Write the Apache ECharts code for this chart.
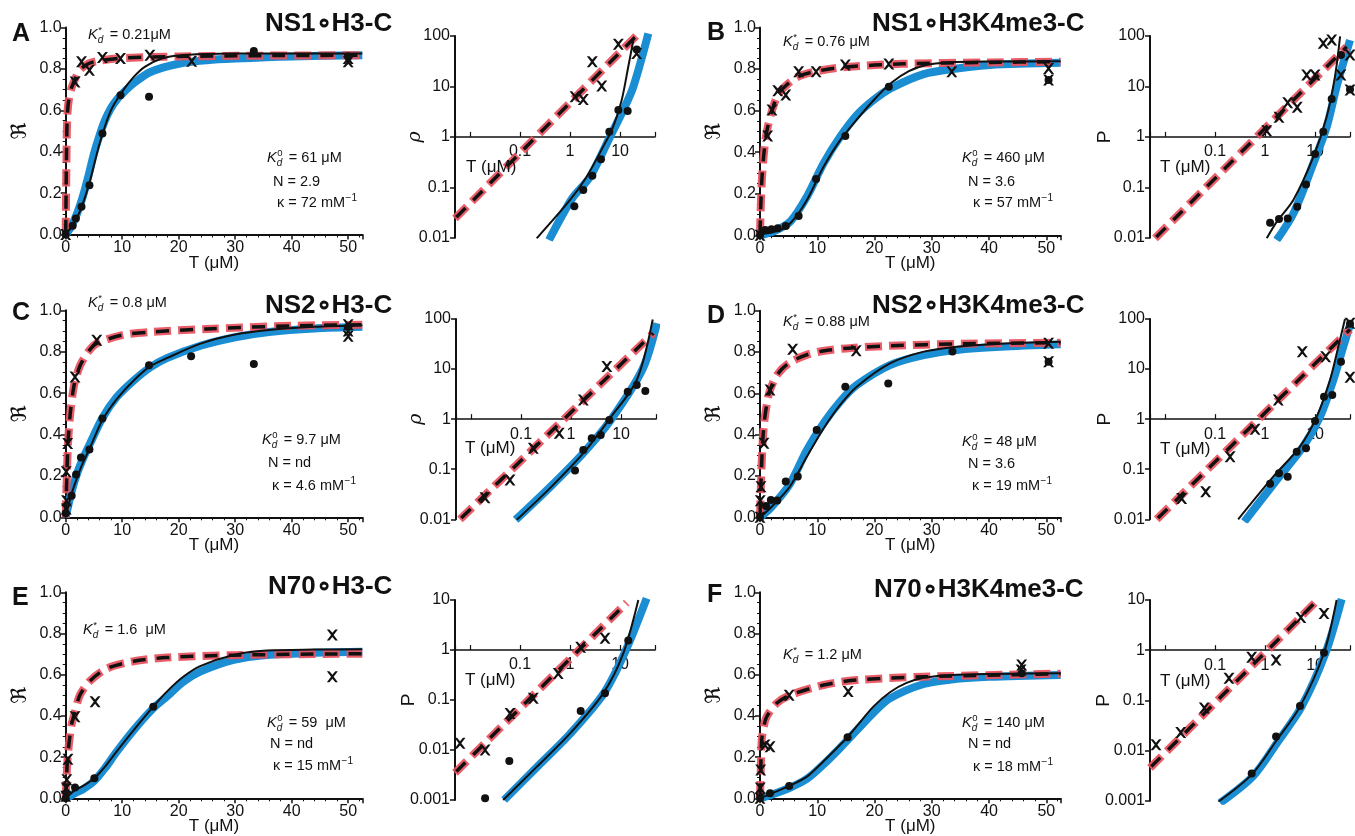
<!DOCTYPE html>
<html>
<head>
<meta charset="utf-8">
<script src="https://cdn.jsdelivr.net/npm/echarts@6.0.0/dist/echarts.min.js"></script>
<style>
html,body{margin:0;padding:0;background:#fff;}
#chart{width:1355px;height:836px;}
</style>
</head>
<body>
<div id="chart"></div>
<script>
// ================= TEXT =================
const panelLetters = ['A','B','C','D','E','F'];
const panelTitles = ['NS1\u2218H3-C','NS1\u2218H3K4me3-C','NS2\u2218H3-C','NS2\u2218H3K4me3-C','N70\u2218H3-C','N70\u2218H3K4me3-C'];
const kdStarValues = ['= 0.21\u03bcM','= 0.76 \u03bcM','= 0.8 \u03bcM','= 0.88 \u03bcM','= 1.6  \u03bcM','= 1.2 \u03bcM'];
const kd0Values = ['= 61 \u03bcM','= 460 \u03bcM','= 9.7 \u03bcM','= 48 \u03bcM','= 59  \u03bcM','= 140 \u03bcM'];
const nValues = ['N = 2.9','N = 3.6','N = nd','N = 3.6','N = nd','N = nd'];
const kappaValues = ['= 72 mM','= 57 mM','= 4.6 mM','= 19 mM','= 15 mM','= 18 mM'];
const logYNames = ['\u03c1','P','\u03c1','P','P','P'];
const linYName = '\u211c';
const xName = 'T (\u03bcM)';

// ================= TICKS =================
const linXTicks = [0,10,20,30,40,50];
const linYTicks = [0,0.2,0.4,0.6,0.8,1.0];
const linXRange = [0, 52.5];
const logYTickLabels = {'-3':'0.001','-2':'0.01','-1':'0.1','0':'1','1':'10','2':'100'};
const logXTickLabels = {'-1':'0.1','0':'1','1':'10'};
const logXRange = [0.005, 50];
const logYRanges = [[0.01,100],[0.01,100],[0.01,100],[0.01,100],[0.001,10],[0.001,10]];

// ================= DATA: binding curves (T, R) =================
const A_red = [[0,0],[0.15,0.4],[0.3,0.58],[0.6,0.66],[1.06,0.71],[1.8,0.76],[2.5,0.795],[4,0.825],[6,0.84],[10,0.852],[20,0.86],[35,0.864],[52.5,0.866]];
const A_blue = [[0,0],[1,0.04],[2,0.1],[3,0.18],[4,0.28],[5,0.39],[6,0.48],[7,0.555],[8,0.61],[9,0.65],[10,0.68],[12,0.73],[15,0.785],[20,0.825],[25,0.842],[30,0.85],[40,0.86],[52.5,0.866]];
const A_black = [[0,0],[2,0.08],[4,0.23],[6,0.44],[8,0.6],[10,0.69],[12,0.76],[14,0.81],[17,0.85],[20,0.865],[25,0.872],[30,0.874],[52.5,0.875]];
const A_cross = [[0,0],[1.65,0.737],[2.8,0.834],[4.2,0.794],[6.5,0.855],[9.7,0.85],[14.9,0.866],[22.3,0.837],[50,0.834],[50,0.85]];
const A_dot = [[0,0],[1.24,0.042],[1.8,0.077],[2.8,0.134],[4.2,0.238],[6.5,0.488],[9.7,0.673],[14.75,0.665],[33.3,0.887],[50,0.86]];

const B_red = [[0,0],[0.15,0.15],[0.4,0.3],[0.9,0.45],[1.34,0.52],[2.1,0.6],[3.1,0.675],[4.5,0.72],[6.75,0.765],[10,0.79],[15,0.81],[25,0.825],[40,0.832],[52.5,0.835]];
const B_blue = [[0,0],[2.5,0.02],[5.3,0.066],[8.2,0.186],[11.1,0.346],[14,0.474],[16.9,0.578],[19.8,0.65],[22.8,0.707],[28.6,0.776],[34.4,0.803],[40.2,0.82],[52.5,0.83]];
const B_black = [[0,0.005],[3,0.02],[5.3,0.058],[8.2,0.17],[11.1,0.33],[14,0.458],[17,0.56],[20,0.655],[23,0.735],[26,0.79],[29,0.82],[33,0.832],[40,0.836],[52.5,0.837]];
const B_cross = [[0,0],[1.34,0.478],[2.1,0.603],[3.1,0.696],[4.5,0.675],[6.75,0.787],[9.8,0.787],[14.9,0.819],[22.5,0.824],[33.5,0.787],[50.4,0.803],[50.4,0.747]];
const B_dot = [[0,0],[0.93,0.026],[2.0,0.029],[3.1,0.034],[4.5,0.045],[6.75,0.093],[9.8,0.271],[14.9,0.478],[22.5,0.715],[50.4,0.747]];

const C_red = [[0,0],[0.15,0.15],[0.4,0.35],[0.8,0.5],[1.5,0.64],[2.5,0.73],[4,0.8],[5.5,0.84],[10,0.88],[15,0.895],[25,0.91],[40,0.925],[52.5,0.93]];
const C_blue = [[0,0],[1,0.12],[2,0.21],[3,0.28],[4.2,0.35],[6.5,0.48],[9,0.58],[12,0.66],[15,0.725],[18,0.77],[24,0.83],[30,0.87],[36,0.895],[44,0.912],[52.5,0.92]];
const C_black = [[0,0],[1,0.11],[2,0.19],[3,0.26],[4.2,0.33],[6.5,0.47],[9,0.57],[12,0.66],[15,0.73],[18,0.77],[24,0.84],[30,0.883],[36,0.905],[44,0.92],[52.5,0.928]];
const C_cross = [[0.1,0.04],[0.15,0.08],[0.1,0.22],[0.35,0.357],[1.65,0.678],[5.5,0.855],[50,0.93],[50,0.9],[50,0.875]];
const C_dot = [[0,0.02],[1.06,0.104],[1.83,0.207],[2.7,0.289],[4.2,0.328],[6.5,0.477],[14.75,0.735],[22.2,0.778],[33.3,0.74],[50,0.92]];

const D_red = [[0,0],[0.15,0.15],[0.4,0.33],[0.7,0.45],[1.2,0.55],[1.75,0.615],[3,0.69],[5,0.745],[8,0.785],[11,0.805],[16,0.82],[22.7,0.83],[35,0.84],[52.5,0.845]];
const D_blue = [[0,0],[2,0.05],[5.2,0.161],[8.2,0.326],[11.1,0.455],[14,0.56],[16.9,0.64],[22.7,0.737],[28.6,0.785],[34.4,0.81],[42,0.825],[52.5,0.837]];
const D_black = [[0,0],[2,0.05],[5.2,0.148],[8.2,0.294],[11.1,0.43],[14,0.544],[16.9,0.632],[22.7,0.745],[28.6,0.802],[34.4,0.826],[42,0.84],[52.5,0.85]];
const D_cross = [[0,0],[0.05,0.08],[0.17,0.148],[0.7,0.358],[1.75,0.616],[5.7,0.813],[16.8,0.806],[50.4,0.842],[50.4,0.753]];
const D_dot = [[0,0],[1.05,0.055],[1.9,0.084],[3.0,0.081],[4.5,0.173],[6.6,0.197],[9.9,0.423],[14.9,0.632],[22.4,0.648],[33.6,0.802],[50.4,0.753]];

const E_red = [[0,0],[0.15,0.1],[0.3,0.18],[0.6,0.27],[1.06,0.36],[1.65,0.42],[2.5,0.5],[4.3,0.57],[7.3,0.63],[12,0.665],[17.9,0.683],[29.7,0.695],[52.5,0.702]];
const E_blue = [[0,0],[1.65,0.025],[3.1,0.045],[5,0.083],[7,0.148],[9,0.225],[12,0.33],[15.5,0.437],[17.9,0.494],[20.8,0.566],[23.8,0.615],[29.7,0.672],[35.6,0.696],[44,0.706],[52.5,0.712]];
const E_black = [[0,0],[1.65,0.04],[3.1,0.06],[5.07,0.097],[7,0.155],[9,0.227],[12,0.33],[15.5,0.445],[17.9,0.518],[20.8,0.59],[23.8,0.642],[29.7,0.696],[35.6,0.717],[44,0.722],[52.5,0.723]];
const E_cross = [[0,0.01],[0.1,0.05],[0.2,0.09],[0.4,0.19],[1.65,0.396],[5.2,0.469],[47.2,0.793],[47.2,0.59]];
const E_dot = [[0,0],[1.65,0.052],[5.07,0.097],[15.5,0.445]];

const F_red = [[0,0],[0.1,0.1],[0.3,0.28],[0.6,0.34],[1.17,0.396],[2.9,0.461],[5.2,0.5],[11.1,0.55],[16.9,0.574],[28.6,0.59],[52.5,0.605]];
const F_blue = [[0,0],[1.75,0.015],[5.1,0.05],[8.2,0.095],[11.1,0.165],[14,0.245],[16.9,0.33],[19.8,0.415],[22.7,0.485],[28.6,0.555],[34.4,0.58],[40,0.59],[52.5,0.599]];
const F_black = [[0,0],[1.75,0.02],[5.1,0.06],[8.2,0.105],[11.1,0.18],[14,0.26],[15.3,0.296],[16.9,0.35],[19.8,0.445],[22.7,0.515],[25.6,0.56],[28.6,0.585],[34.4,0.6],[52.5,0.607]];
const F_cross = [[0,0],[0.05,0.05],[0.12,0.137],[0.87,0.259],[1.75,0.25],[5.1,0.5],[15.4,0.518],[45.6,0.623],[45.7,0.647]];
const F_dot = [[0,0],[1.75,0.024],[5.1,0.06],[15.3,0.296],[45.7,0.607]];

// ================= DATA: log-log plots (T, rho/P) =================
const A_logRed = [[0.005,0.024],[21,100]];
const A_logBlue = [[0.38,0.009],[1.1,0.06],[2.5,0.16],[6.3,1.0],[11.6,3.4],[18.5,10],[36.8,112]];
const A_logBlack = [[0.215,0.0097],[1.0,0.056],[2.15,0.162],[4.6,0.64],[7.3,1.6],[10.8,5.4],[14.6,24.6],[19,97]];
const A_logCross = [[1.26,6.25],[1.84,5.5],[2.79,31],[4.3,10.2],[9.25,69],[21.5,45]];
const A_logDot = [[1.22,0.042],[1.84,0.088],[2.79,0.17],[4.16,0.358],[6.1,1.26],[9.25,3.4],[14.2,3.25],[21.5,54]];

const B_logRed = [[0.0063,0.0097],[43,61]];
const B_logBlue = [[1.71,0.009],[3.68,0.03],[9.25,0.298],[17.1,1.58],[27,10],[50,83]];
const B_logBlack = [[1.08,0.0097],[1.71,0.0206],[3.68,0.056],[9.25,0.4],[17.1,2.5],[25,15.6],[31.7,98]];
const B_logCross = [[1.08,1.32],[1.9,2.44],[2.84,4.75],[4.4,3.85],[6.8,16.8],[10,16.8],[14.6,71.7],[21.5,83],[33,16.8],[50,42],[50,8.5]];
const B_logDot = [[1.26,0.0198],[1.9,0.0234],[2.84,0.024],[4.4,0.041],[6.6,0.114],[10,0.456],[14.6,1.26],[21.5,5.6],[33,42],[50,8.7]];

const C_logRed = [[0.006,0.01],[44,52]];
const C_logBlue = [[0.078,0.0098],[0.38,0.044],[1.76,0.21],[6.4,1.0],[27,10],[52,82]];
const C_logBlack = [[0.082,0.0098],[0.38,0.042],[1.76,0.209],[6.0,1.04],[20.6,6.05],[43,98]];
const C_logCross = [[0.019,0.027],[0.06,0.061],[0.176,0.263],[0.58,0.52],[1.76,2.41],[5.2,11.2]];
const C_logDot = [[1.2,0.094],[1.76,0.243],[2.59,0.416],[3.92,0.484],[5.82,0.96],[13.6,3.54],[20.6,4.82],[30.6,3.66]];

const D_logRed = [[0.0068,0.01],[50,62]];
const D_logBlue = [[0.385,0.009],[1.71,0.061],[5.8,0.283],[12.6,1.12],[23.2,6.05],[36.7,28],[51,82]];
const D_logBlack = [[0.29,0.01],[1.46,0.071],[5.0,0.283],[10.8,1.12],[19.9,6.05],[29.2,28],[39.7,100]];
const D_logCross = [[0.0215,0.026],[0.065,0.0357],[0.2,0.178],[0.63,0.63],[1.84,2.41],[5.56,22.3],[16.3,17.7],[50,82],[50,6.9]];
const D_logDot = [[1.26,0.051],[1.9,0.083],[2.84,0.071],[4.3,0.224],[6.6,0.262],[10,0.92],[15.1,2.81],[22.1,3.04],[33,14],[50,80]];

const E_logRed = [[0.005,0.0035],[13.6,8.85]];
const E_logBlue = [[0.048,0.001],[0.22,0.0046],[1.0,0.021],[4.6,0.13],[12.5,0.9],[34,10.8]];
const E_logBlack = [[0.046,0.001],[0.215,0.0046],[1.0,0.0215],[4.6,0.136],[11.6,0.86],[23.2,10]];
const E_logCross = [[0.0063,0.0136],[0.02,0.01],[0.063,0.054],[0.184,0.108],[0.58,0.34],[1.63,1.13],[5.0,1.71]];
const E_logDot = [[0.02,0.00108],[0.061,0.006],[1.63,0.06],[5,0.136],[14.6,1.54]];

const F_logRed = [[0.005,0.0045],[11.6,10.3]];
const F_logBlue = [[0.126,0.0009],[0.58,0.0031],[1.8,0.015],[5.3,0.073],[16,0.85],[34,10.4]];
const F_logBlack = [[0.116,0.00095],[0.54,0.0033],[1.71,0.016],[5,0.075],[15.1,0.89],[27,10]];
const F_logCross = [[0.0066,0.013],[0.0206,0.0228],[0.061,0.07],[0.19,0.275],[0.54,0.72],[1.66,0.64],[5.2,4.5],[15.1,5.4]];
const F_logDot = [[0.54,0.0035],[1.66,0.019],[5.0,0.077],[15.1,0.89]];

const linData = [
  [A_red,A_blue,A_black,A_cross,A_dot],[B_red,B_blue,B_black,B_cross,B_dot],
  [C_red,C_blue,C_black,C_cross,C_dot],[D_red,D_blue,D_black,D_cross,D_dot],
  [E_red,E_blue,E_black,E_cross,E_dot],[F_red,F_blue,F_black,F_cross,F_dot]];
const logData = [
  [A_logRed,A_logBlue,A_logBlack,A_logCross,A_logDot],[B_logRed,B_logBlue,B_logBlack,B_logCross,B_logDot],
  [C_logRed,C_logBlue,C_logBlack,C_logCross,C_logDot],[D_logRed,D_logBlue,D_logBlack,D_logCross,D_logDot],
  [E_logRed,E_logBlue,E_logBlack,E_logCross,E_logDot],[F_logRed,F_logBlue,F_logBlack,F_logCross,F_logDot]];

// ================= LAYOUT =================
const leftBoxes = [[65.7,27.5,296.6,207],[760,27.5,300.6,207.8],[65.7,310.3,296.6,207],[760,310.7,300.6,206.6],[65.7,592.3,296.6,206],[760,592.3,300.6,206]];
const rightBoxes = [[455,36,200,201.7],[1150,36,200,201.7],[456,319,200,200.3],[1150,319,200,200.3],[455,600,200,200],[1150,600,200,200.7]];
const KD_POS = [[88,35],[783,42],[88,303],[783,322],[83,630],[783,655]];
const K0_POS = [[267,158],[962,158],[262,440],[962,442],[267,723],[962,723]];
const N_POS = [[273,182],[968,182],[268,463],[968,464],[270,744],[968,744]];
const KAPPA_POS = [[277,203],[973,203],[272,486],[972,486],[273,766],[973,767]];
const TITLE_POS = [[265,24],[872,24],[265,306],[872,306],[268,587],[874,590]];
const LETTER_POS = [[12,34],[707,33],[12,313],[707,316],[12,598],[707,595]];
const TLOG_POS = [[466,167],[1160,167],[465,448],[1160,449],[465,680],[1160,681]];

const FF = '"Liberation Sans", Arial, Helvetica, sans-serif';
const INK = '#111111';
const BLUE = '#1a8dd3';
const RED = '#e8505d';
const CROSS = 'path://M0,0L2.3,0L5,3.1L7.7,0L10,0L6.2,5L10,10L7.7,10L5,6.9L2.3,10L0,10L3.8,5Z';
const SMOOTH = 0.3;

const cv = document.createElement('canvas').getContext('2d');
function measure(t, font){ cv.font = font; return cv.measureText(t).width; }

const grids=[], xAxes=[], yAxes=[], series=[], graphics=[];

function addSeries(gi, set){
  const [red, blue, black, cross, dot] = set;
  const common = {xAxisIndex:gi, yAxisIndex:gi, silent:true, animation:false};
  series.push(Object.assign({type:'line', data:blue, showSymbol:false, symbol:'none', smooth:SMOOTH, z:2,
    lineStyle:{color:BLUE, width:8}}, common));
  series.push(Object.assign({type:'line', data:red, showSymbol:false, symbol:'none', smooth:SMOOTH, z:3,
    lineStyle:{color:RED, width:8, type:[17,7], opacity:0.92}}, common));
  series.push(Object.assign({type:'line', data:red, showSymbol:false, symbol:'none', smooth:SMOOTH, z:4,
    lineStyle:{color:INK, width:3.5, type:[13,11], dashOffset:-2}}, common));
  series.push(Object.assign({type:'line', data:black, showSymbol:false, symbol:'none', smooth:SMOOTH, z:5,
    lineStyle:{color:INK, width:2}}, common));
  series.push(Object.assign({type:'scatter', data:cross, symbol:CROSS, symbolSize:11, z:6,
    itemStyle:{color:INK, opacity:1}}, common));
  series.push(Object.assign({type:'scatter', data:dot, symbol:'circle', symbolSize:8, z:6,
    itemStyle:{color:INK, opacity:1}}, common));
}

const labelStyle = {color:INK, fontSize:16, fontFamily:FF};

for (let p=0; p<6; p++){
  // ---- linear binding plot
  let b = leftBoxes[p];
  let gi = grids.length;
  grids.push({left:b[0], top:b[1], width:b[2], height:b[3], containLabel:false, outerBoundsMode:'none'});
  xAxes.push({gridIndex:gi, type:'value', min:linXRange[0], max:linXRange[1], interval:10,
    axisLine:{show:true, onZero:false, lineStyle:{color:INK, width:2}},
    axisTick:{show:true, length:5, lineStyle:{color:INK, width:1.5}},
    minorTick:{show:true, splitNumber:5, length:3, lineStyle:{color:INK, width:1}},
    splitLine:{show:false},
    axisLabel:Object.assign({margin:5, showMaxLabel:true, formatter:v => linXTicks.indexOf(Math.round(v*100)/100) >= 0 ? String(v) : ''}, labelStyle),
    name:xName, nameLocation:'middle', nameGap:20, nameMoveOverlap:false,
    nameTextStyle:{color:INK, fontSize:17, fontFamily:FF}});
  yAxes.push({gridIndex:gi, type:'value', min:0, max:1, interval:0.2,
    axisLine:{show:true, onZero:false, lineStyle:{color:INK, width:2}},
    axisTick:{show:true, length:5, lineStyle:{color:INK, width:1.5}},
    minorTick:{show:true, splitNumber:4, length:3, lineStyle:{color:INK, width:1}},
    splitLine:{show:false},
    axisLabel:Object.assign({margin:4, formatter:v => {
      const m = linYTicks.find(t => Math.abs(t - v) < 1e-6);
      return m === undefined ? '' : m.toFixed(1);}}, labelStyle),
    name:linYName, nameLocation:'middle', nameGap:35, nameRotate:90, nameMoveOverlap:false,
    nameTextStyle:{color:INK, fontSize:21, fontFamily:'"DejaVu Serif", "DejaVu Sans", serif'}});
  addSeries(gi, linData[p]);

  // ---- log-log plot
  b = rightBoxes[p];
  gi = grids.length;
  const yr = logYRanges[p];
  const crossFrac = (Math.log10(yr[1]) - 0) / (Math.log10(yr[1]) - Math.log10(yr[0])); // from top
  grids.push({left:b[0], top:b[1], width:b[2], height:b[3], containLabel:false, outerBoundsMode:'none'});
  xAxes.push({gridIndex:gi, type:'log', logBase:10, min:logXRange[0], max:logXRange[1],
    offset:-(b[3]*(1-crossFrac)),
    axisLine:{show:true, onZero:false, lineStyle:{color:INK, width:1.6}},
    axisTick:{show:true, inside:true, length:5, lineStyle:{color:INK, width:1.2}},
    splitLine:{show:false},
    axisLabel:Object.assign({margin:7, showMinLabel:true, showMaxLabel:true, formatter:v => {
      const lg = Math.log10(v), r = Math.round(lg);
      if (Math.abs(lg - r) > 0.01) return '';
      return logXTickLabels[String(r)] || '';}}, labelStyle)});
  yAxes.push({gridIndex:gi, type:'log', logBase:10, min:yr[0], max:yr[1],
    axisLine:{show:true, onZero:false, lineStyle:{color:INK, width:2}},
    axisTick:{show:true, length:5, lineStyle:{color:INK, width:1.5}},
    splitLine:{show:false},
    axisLabel:Object.assign({margin:5, formatter:v => {
      const lg = Math.log10(v), r = Math.round(lg);
      if (Math.abs(lg - r) > 0.01) return '';
      return logYTickLabels[String(r)] || '';}}, labelStyle),
    name:logYNames[p], nameLocation:'middle', nameGap:(p>=4?37:(p%2===0?30:36)), nameRotate:90, nameMoveOverlap:false,
    nameTextStyle:{color:INK, fontSize:19, fontFamily:(logYNames[p]==='P'?FF:'"DejaVu Serif", serif'), fontStyle:(logYNames[p]==='P'?'normal':'italic')}});
  addSeries(gi, logData[p]);
}

// ================= TEXT GRAPHICS =================
function txt(x, y, text, size, extra){
  return {type:'text', x:x, y:y, z:100, silent:true,
    style:Object.assign({text:text, fill:INK, fontSize:size, fontFamily:FF, fontWeight:'normal', fontStyle:'normal',
      align:'left', verticalAlign:'middle', textAlign:'left', textVerticalAlign:'middle'}, extra||{})};
}
function kLabel(x, y, sup, rest){
  const fs = 14.5;
  const kw = measure('K', 'italic ' + fs + 'px ' + FF);
  graphics.push(txt(x, y, 'K', fs, {fontStyle:'italic'}));
  graphics.push(txt(x+kw+0.5, y-5, sup, 9.5));
  graphics.push(txt(x+kw, y+5, 'd', 10, {fontStyle:'italic'}));
  graphics.push(txt(x+kw+8, y, ' ' + rest, fs));
}
for (let p=0; p<6; p++){
  graphics.push(txt(LETTER_POS[p][0], LETTER_POS[p][1], panelLetters[p], 25, {fontWeight:'bold'}));
  graphics.push(txt(TITLE_POS[p][0], TITLE_POS[p][1], panelTitles[p], 26, {fontWeight:'bold'}));
  kLabel(KD_POS[p][0], KD_POS[p][1], '*', kdStarValues[p]);
  kLabel(K0_POS[p][0], K0_POS[p][1], '0', kd0Values[p]);
  graphics.push(txt(N_POS[p][0], N_POS[p][1], nValues[p], 14.5));
  const kt = '\u03ba ' + kappaValues[p];
  graphics.push(txt(KAPPA_POS[p][0], KAPPA_POS[p][1], kt, 14.5));
  const kw = measure(kt, '14.5px ' + FF);
  graphics.push(txt(KAPPA_POS[p][0] + kw + 0.5, KAPPA_POS[p][1] - 5, '\u22121', 10));
  graphics.push(txt(TLOG_POS[p][0], TLOG_POS[p][1], xName, 17));
}

const chart = echarts.init(document.getElementById('chart'), null, {renderer:'canvas'});
chart.setOption({
  animation:false,
  backgroundColor:'#ffffff',
  grid:grids, xAxis:xAxes, yAxis:yAxes, series:series, graphic:graphics
});
</script>
</body>
</html>
